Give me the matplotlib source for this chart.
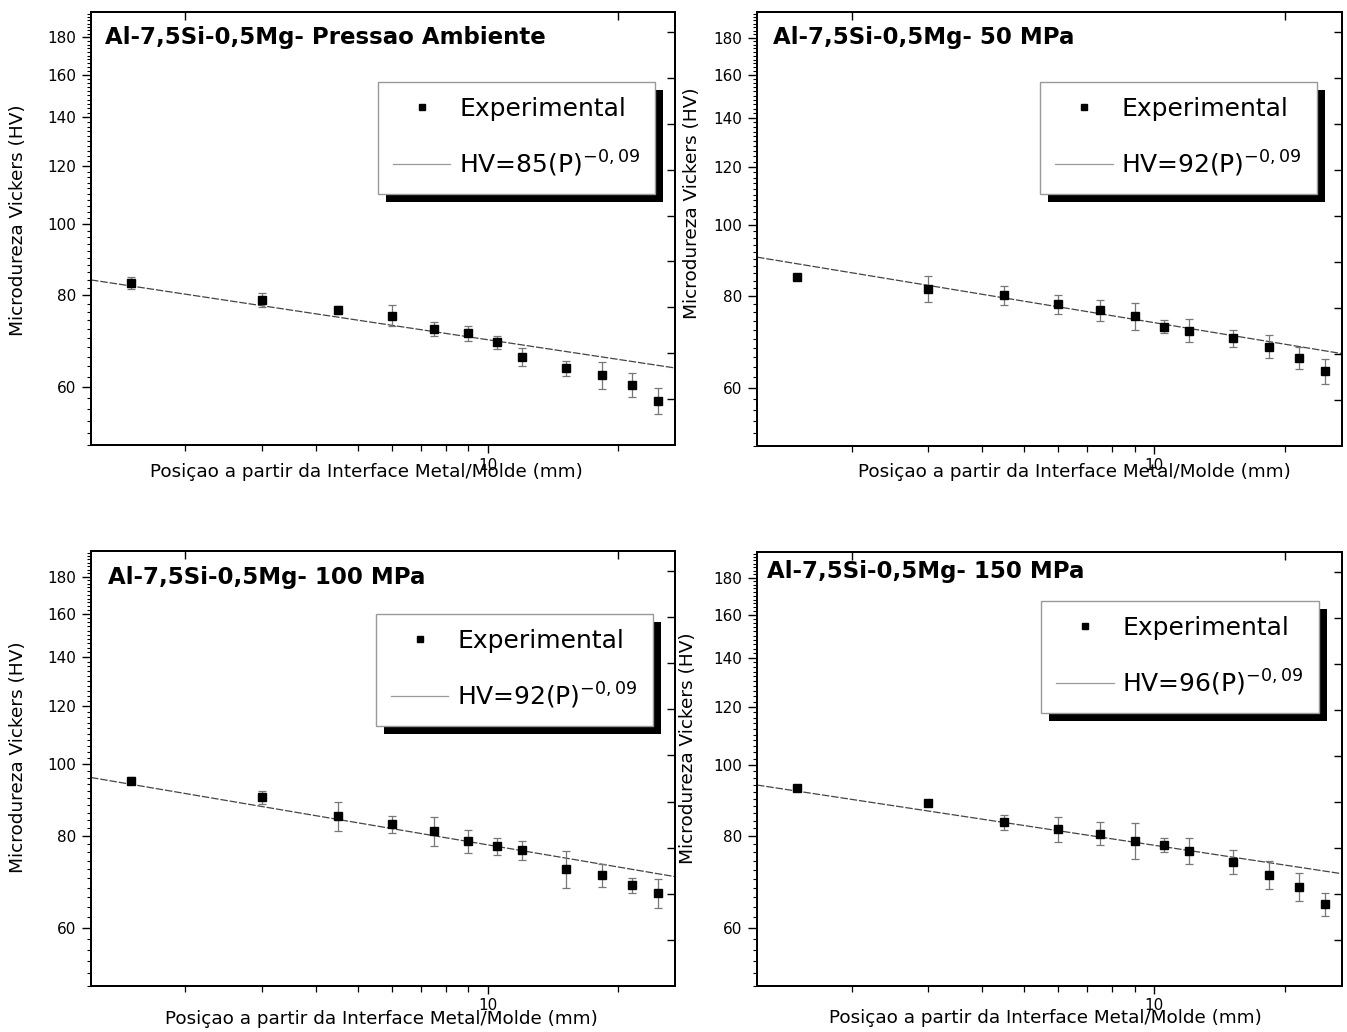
import numpy as np
import matplotlib
matplotlib.use("Agg")
import matplotlib.pyplot as plt
from matplotlib.ticker import FixedLocator, LogLocator, MultipleLocator, NullFormatter, StrMethodFormatter, FixedFormatter
from matplotlib.patches import Rectangle

# ---------------- data ----------------
pos_x = [1.5, 3, 4.5, 6, 7.5, 9, 10.5, 12, 15.2, 18.4, 21.6, 24.8]

hv_ambiente = [83.2, 78.9, 76.5, 75.1, 72.0, 71.0, 69.1, 66.0, 63.6, 62.3, 60.4, 57.5]
err_ambiente = [1.5, 1.7, 1.0, 2.5, 1.5, 1.6, 1.4, 1.9, 1.5, 2.7, 2.2, 2.3]
hv_50 = [85.0, 81.8, 80.2, 78.0, 76.5, 75.1, 72.7, 71.8, 70.1, 68.3, 65.9, 63.2]
err_50 = [0.5, 3.3, 2.4, 2.3, 2.6, 3.2, 1.5, 2.6, 1.8, 2.5, 2.2, 2.4]
hv_100 = [95.1, 90.3, 85.1, 82.9, 81.2, 78.6, 77.4, 76.5, 72.1, 70.7, 68.5, 66.8]
err_100 = [1.1, 1.8, 3.9, 2.1, 3.6, 2.8, 2.1, 2.3, 4.1, 2.5, 1.7, 3.0]
hv_150 = [93.1, 88.8, 83.6, 81.8, 80.6, 78.9, 77.8, 76.4, 73.8, 70.9, 68.2, 64.6]
err_150 = [0.7, 0.5, 2.0, 3.2, 2.9, 4.5, 1.8, 3.2, 2.7, 3.2, 3.0, 2.4]

fit_x = [1.21, 27.1]
fit_ambiente = [84.0, 63.7]
fit_50 = [90.4, 66.8]
fit_100 = [96.0, 70.4]
fit_150 = [93.9, 71.1]

titles = ["Al-7,5Si-0,5Mg- Pressao Ambiente", "Al-7,5Si-0,5Mg- 50 MPa",
          "Al-7,5Si-0,5Mg- 100 MPa", "Al-7,5Si-0,5Mg- 150 MPa"]
fit_labels = [r"HV=85(P)$^{\mathregular{-0,09}}$", r"HV=92(P)$^{\mathregular{-0,09}}$",
              r"HV=92(P)$^{\mathregular{-0,09}}$", r"HV=96(P)$^{\mathregular{-0,09}}$"]
exp_label = "Experimental"
xlabel = "Posiçao a partir da Interface Metal/Molde (mm)"
ylabel = "Microdureza Vickers (HV)"

series = [(hv_ambiente, err_ambiente, fit_ambiente),
          (hv_50, err_50, fit_50),
          (hv_100, err_100, fit_100),
          (hv_150, err_150, fit_150)]

# ---------------- layout ----------------
W, H = 1347, 1032
fig = plt.figure(figsize=(W / 100, H / 100), dpi=100)

# axes boxes in pixels: (left, top, right, bottom)
boxes = [(91, 12, 675, 445), (757, 12, 1342, 446), (91, 551, 675, 986), (757, 552, 1342, 986)]
title_pos = [(0.024, 0.940), (0.0274, 0.942), (0.029, 0.940), (0.0171, 0.956)]
legend_pos = [(0.4914, 0.8383), (0.4838, 0.8383), (0.488, 0.8552), (0.4855, 0.8871)]
xlabel_pos = [(0.4717, -0.062), (0.5427, -0.060), (0.4974, -0.076), (0.4932, -0.074)]
ylabel_pos = [(-0.125, 0.520), (-0.111, 0.56), (-0.125, 0.526), (-0.118, 0.548)]

axes = []
legends = []
for i, (l, t, r, b) in enumerate(boxes):
    ax = fig.add_axes([l / W, 1 - b / H, (r - l) / W, (b - t) / H])
    hv, err, fit = series[i]
    ax.set_xscale("log")
    ax.set_yscale("log")
    ax.set_xlim(1.21, 27.1)
    ax.set_ylim(50, 195)

    fl, = ax.plot(fit_x, fit, color="#444444", lw=0.9, dashes=(6, 1.5), zorder=2)
    eb = ax.errorbar(pos_x, hv, yerr=err, fmt="s", ms=6, mfc="black", mec="black",
                     ecolor="#777777", elinewidth=0.9, capsize=2.8, capthick=0.9, zorder=3)

    # y axis
    ax.yaxis.set_major_locator(MultipleLocator(20))
    ax.yaxis.set_minor_locator(MultipleLocator(2))
    ax.yaxis.set_major_formatter(StrMethodFormatter("{x:.0f}"))
    ax.yaxis.set_minor_formatter(NullFormatter())
    # x axis
    ax.xaxis.set_major_locator(FixedLocator([10]))
    ax.xaxis.set_major_formatter(FixedFormatter(["10"]))
    ax.xaxis.set_minor_locator(LogLocator(base=10, subs=np.arange(2, 10)))
    ax.xaxis.set_minor_formatter(NullFormatter())

    ax.tick_params(axis="y", which="major", direction="out", length=6.5, width=1.0,
                   labelsize=11, pad=4, left=True, right=False)
    ax.tick_params(axis="y", which="minor", direction="out", length=3, width=0.8, right=False)
    ax.tick_params(axis="x", which="major", direction="out", length=6, width=1.0,
                   labelsize=11, pad=3, top=False)
    ax.tick_params(axis="x", which="minor", direction="out", length=4.5, width=0.9, top=False)
    for sp in ax.spines.values():
        sp.set_linewidth(1.2)

    # right-hand axis with evenly spaced ticks
    axr = ax.twinx()
    axr.set_ylim(0, 1)
    axr.set_yticks(np.arange(1, 10) * 0.106)
    axr.tick_params(axis="y", direction="in", length=6, width=1.0, labelright=False)
    # top axis ticks
    axt = ax.twiny()
    axt.set_xscale("log")
    axt.set_xlim(1.21, 27.1)
    axt.xaxis.set_major_locator(FixedLocator([2, 20]))
    axt.xaxis.set_minor_locator(FixedLocator([]))
    axt.tick_params(axis="x", direction="in", length=6, width=1.0, labeltop=False)
    for a in (axr, axt):
        for sp in a.spines.values():
            sp.set_linewidth(1.2)

    ax.set_xlabel(xlabel, fontsize=13.2)
    ax.xaxis.label.set_va("center")
    ax.xaxis.set_label_coords(*xlabel_pos[i])
    ax.set_ylabel(ylabel, fontsize=13.3)
    ax.yaxis.label.set_va("center")
    ax.yaxis.set_label_coords(*ylabel_pos[i])

    ax.text(title_pos[i][0], title_pos[i][1], titles[i], transform=ax.transAxes,
            fontsize=16.5, fontweight="bold", ha="left", va="center")

    leg = ax.legend([eb[0], fl], [exp_label, fit_labels[i]], loc="upper left",
                    bbox_to_anchor=legend_pos[i], bbox_transform=ax.transAxes,
                    borderaxespad=0, fontsize=18, frameon=True, fancybox=False,
                    framealpha=1, edgecolor="#999999", handlelength=2.3,
                    handletextpad=0.35, labelspacing=1.1, borderpad=0.6,
                    numpoints=1, markerscale=0.75)
    leg.get_frame().set_linewidth(1.0)
    lines = leg.get_lines()
    if len(lines) > 1:
        lines[1].set_color("#999999")
        lines[1].set_linestyle("-")
        lines[1].set_linewidth(0.9)
    leg.set_zorder(6)
    axes.append(ax)
    legends.append(leg)

# shadows behind legends
fig.canvas.draw()
renderer = fig.canvas.get_renderer()
for ax, leg in zip(axes, legends):
    bb = leg.get_window_extent(renderer)
    inv = ax.transAxes.inverted()
    (x0, y0) = inv.transform((bb.x0 + 8, bb.y0 - 8))
    (x1, y1) = inv.transform((bb.x1 + 8, bb.y1 - 8))
    ax.add_patch(Rectangle((x0, y0), x1 - x0, y1 - y0, transform=ax.transAxes,
                           facecolor="black", edgecolor="none", zorder=5.5, clip_on=False))

fig.savefig("out.png", dpi=100)
